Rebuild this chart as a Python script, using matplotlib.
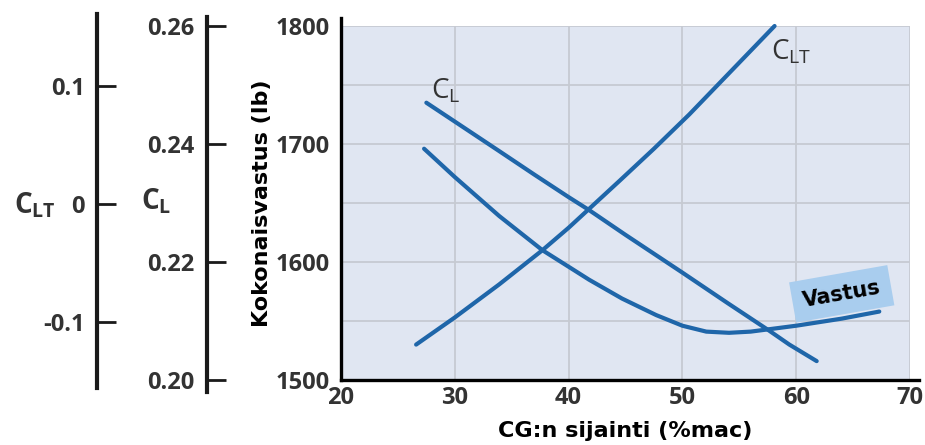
import matplotlib as mpl
from matplotlib import pyplot as plt
import numpy as np

mpl.rcParams['font.family'] = ['Open Sans', 'DejaVu Sans']
mpl.rcParams['mathtext.default'] = 'regular'

# data (x = CG position in %mac, y = drag in lb)
clt_x = [26.6, 30.0, 33.9, 37.7, 40.0, 41.8, 44.5, 47.5, 50.6, 52.4, 55.0, 58.1]
clt_y = [1530, 1553, 1581, 1610, 1629, 1645, 1669, 1696, 1725, 1743, 1769, 1800]

cl_x = [27.5, 30.0, 33.9, 37.0, 40.0, 41.8, 45.0, 50.0, 54.0, 57.6, 59.4, 61.8]
cl_y = [1735, 1719, 1694, 1674, 1655, 1644, 1623, 1591, 1565, 1542, 1530, 1516]

drag_x = [27.3, 30.0, 33.9, 37.7, 40.0, 41.8, 44.7, 47.7, 50.0, 52.1, 54.1, 56.0,
          60.0, 64.0, 67.3]
drag_y = [1696, 1672, 1639, 1610, 1596, 1585, 1569, 1555, 1546, 1541, 1540, 1541,
          1546, 1552, 1558]

x_ticks = [20, 30, 40, 50, 60, 70]
drag_ticks = [1500, 1600, 1700, 1800]
cl_ticks = [0.20, 0.22, 0.24, 0.26]
cl_tick_labels = ['0.20', '0.22', '0.24', '0.26']
clt_ticks = [-0.1, 0.0, 0.1]
clt_tick_labels = ['-0.1', '0', '0.1']

line_c = '#1f66a9'
txt_c = '#333333'
tick_fs = 17

fig = plt.figure(figsize=(9.25, 4.45), dpi=100)
W, H = 925.0, 445.0

# main plot: 341..910 px across, 26..380 px down
ax = fig.add_axes([341 / W, 1 - 380 / H, (910 - 341) / W, (380 - 26) / H])
ax.set_facecolor('#e0e6f2')
ax.set_xlim(20, 70)
ax.set_ylim(1500, 1800)
ax.set_xticks(x_ticks)
ax.set_yticks(drag_ticks)
ax.set_yticks(np.arange(1550, 1800, 100), minor=True)
ax.grid(True, which='both', color='#c6cad2', lw=1.3)
ax.set_axisbelow(True)
ax.tick_params(which='both', length=0)
ax.tick_params(axis='y', pad=8, labelsize=tick_fs, labelcolor=txt_c)
ax.tick_params(axis='x', pad=4, labelsize=tick_fs, labelcolor=txt_c)
for lab in ax.get_xticklabels() + ax.get_yticklabels():
    lab.set_fontweight('bold')
for s in ['top', 'right']:
    ax.spines[s].set_visible(False)
for s in ['left', 'bottom']:
    ax.spines[s].set_linewidth(2.4)
    ax.spines[s].set_color('black')
ax.spines['bottom'].set_bounds(20, 70.8)
ax.spines['left'].set_bounds(1500, 1807)

for xs, ys in [(clt_x, clt_y), (cl_x, cl_y), (drag_x, drag_y)]:
    ax.plot(xs, ys, color=line_c, lw=3, solid_capstyle='round',
            solid_joinstyle='round', clip_on=False, zorder=3)

ax.text(29.2, 1745, 'C$_L$', fontsize=20, color=txt_c, ha='center', va='center')
ax.text(59.6, 1778, 'C$_{LT}$', fontsize=20, color=txt_c, ha='center', va='center')
ax.text(64.0, 1573, 'Vastus', fontsize=15, fontweight='bold', family='DejaVu Sans',
        color='black', ha='center', va='center', rotation=10, zorder=2,
        bbox=dict(boxstyle='square,pad=0.5', fc='#a9cdee', ec='none'))

ax.set_xlabel('CG:n sijainti (%mac)', fontsize=16, fontweight='bold',
              family='DejaVu Sans', labelpad=8)
ax.set_ylabel('Kokonaisvastus (lb)', fontsize=16, fontweight='bold',
              family='DejaVu Sans', labelpad=3)

# C_L scale: 0.20 at 380 px, 0.26 at 26 px, spine 17..392 px
ppu_cl = (380 - 26) / (cl_ticks[-1] - cl_ticks[0])
cl_top = cl_ticks[-1] + (26 - 17) / ppu_cl
cl_bot = cl_ticks[0] - (392 - 380) / ppu_cl
ax_cl = fig.add_axes([207 / W, 1 - 392 / H, 0.001, (392 - 17) / H])
ax_cl.set_ylim(cl_bot, cl_top)

# C_LT scale: 0 at 204 px, 0.1 per 118 px, spine 14..388 px
ppu_clt = 1180.0
clt_top = (204 - 14) / ppu_clt
clt_bot = -(388 - 204) / ppu_clt
ax_clt = fig.add_axes([97 / W, 1 - 388 / H, 0.001, (388 - 14) / H])
ax_clt.set_ylim(clt_bot, clt_top)

for a, ticks, labels in [(ax_cl, cl_ticks, cl_tick_labels),
                         (ax_clt, clt_ticks, clt_tick_labels)]:
    a.patch.set_visible(False)
    a.set_xticks([])
    a.set_yticks(ticks)
    a.set_yticklabels(labels)
    for s in ['top', 'right', 'bottom']:
        a.spines[s].set_visible(False)
    a.spines['left'].set_linewidth(3)
    a.spines['left'].set_color('#1a1a1a')
    a.tick_params(axis='y', direction='in', length=14, width=2,
                  color='#1a1a1a', pad=9, labelsize=tick_fs, labelcolor=txt_c)
    for lab in a.get_yticklabels():
        lab.set_fontweight('bold')

fig.text(35 / W, 1 - 205 / H, 'C$_{LT}$', fontsize=20, fontweight='bold',
         color=txt_c, ha='center', va='center')
fig.text(156 / W, 1 - 201 / H, 'C$_L$', fontsize=20, fontweight='bold',
         color=txt_c, ha='center', va='center')

fig.savefig('out.png', dpi=100)
